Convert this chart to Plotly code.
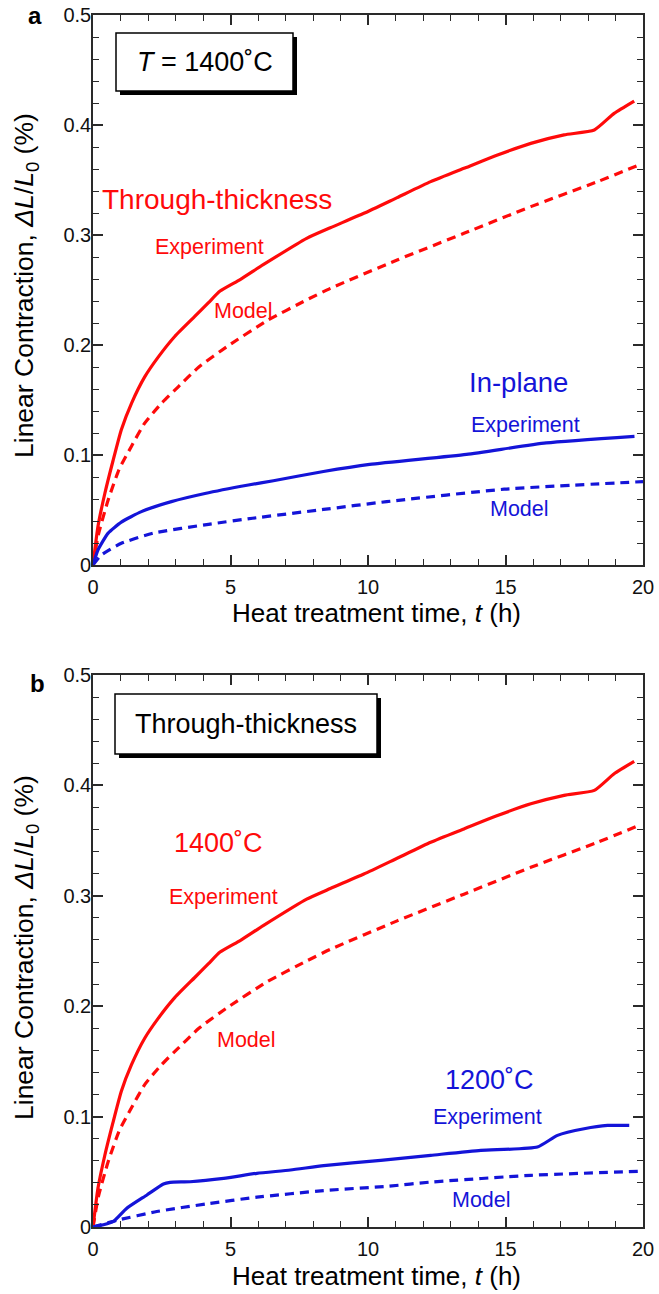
import plotly.graph_objects as go

W, H = 659, 1294

# ---------------- data ----------------
# 1400 C, through-thickness, experiment (same curve in both panels)
tt_exp_t = [0, 0.18, 0.43, 0.73, 1.03, 1.40, 1.88, 2.37, 2.98, 3.70, 4.2, 4.62, 5.35, 6.19, 7.77,
            8.63, 9.85, 11.06, 12.28, 13.49, 14.71, 15.92, 17.13, 18.23, 18.95, 19.68]
tt_exp_v = [0, 0.035, 0.065, 0.095, 0.123, 0.147, 0.171, 0.189, 0.208, 0.226, 0.2385, 0.249, 0.2595, 0.273, 0.297,
            0.3066, 0.3197, 0.334, 0.3485, 0.3606, 0.3727, 0.3833, 0.391, 0.3955, 0.4106, 0.4218]
# 1400 C, through-thickness, model
tt_mod_t = [0, 0.2, 0.55, 0.95, 1.40, 1.88, 2.49, 3.10, 3.85, 4.9, 6.32, 7.77, 8.63, 11.06, 13.49, 15.92, 18.35, 19.93]
tt_mod_v = [0, 0.028, 0.059, 0.087, 0.108, 0.129, 0.147, 0.162, 0.180, 0.199, 0.222, 0.241, 0.2515, 0.2773,
            0.3015, 0.3258, 0.3485, 0.3645]
# 1400 C, in-plane, experiment
ip_exp_t = [0, 0.18, 0.55, 1.03, 1.76, 2.85, 4.07, 5.65, 6.56, 8.38, 10.06, 13.58, 16.48, 19.69]
ip_exp_v = [0, 0.0136, 0.029, 0.039, 0.0485, 0.0576, 0.065, 0.0727, 0.0766, 0.085, 0.0915, 0.1006, 0.111, 0.117]
# 1400 C, in-plane, model
ip_mod_t = [0, 0.3, 1.03, 2.2, 4.2, 5.8, 8.38, 10.68, 14.95, 20]
ip_mod_v = [0, 0.009, 0.0197, 0.029, 0.037, 0.0425, 0.0505, 0.0576, 0.0689, 0.0758]
# 1200 C, through-thickness, experiment
t12_exp_t = [0, 0.38, 0.74, 1.23, 1.96, 2.56, 2.8, 3.53, 4.75, 5.96, 7.18, 8.39, 10.46, 12.28,
             14.1, 16.16, 16.89, 17.86, 18.71, 19.5]
t12_exp_v = [0, 0.002, 0.005, 0.017, 0.029, 0.039, 0.0405, 0.041, 0.044, 0.0486, 0.0516, 0.0556, 0.0604,
             0.0649, 0.0694, 0.0724, 0.083, 0.089, 0.092, 0.092]
# 1200 C, through-thickness, model
t12_mod_t = [0, 0.86, 2.32, 4.14, 5.96, 8.39, 10.76, 12.28, 15.92, 19.81]
t12_mod_v = [0, 0.006, 0.014, 0.021, 0.027, 0.033, 0.037, 0.0407, 0.0468, 0.0504]

x_ticks = [0, 5, 10, 15, 20]
y_ticks = [0, 0.1, 0.2, 0.3, 0.4, 0.5]
y_ticktext = ["0", "0.1", "0.2", "0.3", "0.4", "0.5"]

RED = "#ff0a0a"
BLUE = "#1414d8"
AX = "#2a2a2a"
FONT = "Liberation Sans, Arial, sans-serif"


def px(x):
    return x / W


def py(y):
    return 1 - y / H


fig = go.Figure()


def add(t, v, color, dash, xa, ya):
    fig.add_trace(go.Scatter(
        x=t, y=v, mode="lines", xaxis=xa, yaxis=ya, showlegend=False, hoverinfo="skip",
        line=dict(color=color, width=3.2, dash=dash, shape="spline", smoothing=0.5)))


add(tt_mod_t, tt_mod_v, RED, "9px,6px", "x", "y")
add(ip_mod_t, ip_mod_v, BLUE, "9px,6px", "x", "y")
add(tt_exp_t, tt_exp_v, RED, "solid", "x", "y")
add(ip_exp_t, ip_exp_v, BLUE, "solid", "x", "y")

add(tt_mod_t, tt_mod_v, RED, "9px,6px", "x2", "y2")
add(t12_mod_t, t12_mod_v, BLUE, "9px,6px", "x2", "y2")
add(tt_exp_t, tt_exp_v, RED, "solid", "x2", "y2")
add(t12_exp_t, t12_exp_v, BLUE, "solid", "x2", "y2")

xdom = [px(93), px(643)]
ax_common = dict(showline=True, linecolor=AX, linewidth=1.6, mirror="allticks",
                 ticks="inside", ticklen=10, tickwidth=1.6, tickcolor=AX,
                 showgrid=False, zeroline=False, automargin=False,
                 tickfont=dict(family=FONT, size=20, color="#111"))
xa = dict(ax_common, range=[0, 20], tickvals=x_ticks, ticktext=[str(v) for v in x_ticks],
          minor=dict(dtick=1, ticks="inside", ticklen=6, tickwidth=1.4, tickcolor=AX, showgrid=False),
          domain=xdom, ticklabelstandoff=3)
ya = dict(ax_common, range=[0, 0.5], tickvals=y_ticks, ticktext=y_ticktext,
          minor=dict(dtick=0.02, tick0=0, ticks="inside", ticklen=6, tickwidth=1.4, tickcolor=AX, showgrid=False),
          ticklabelstandoff=-4)

fig.update_layout(
    width=W, height=H, margin=dict(l=0, r=0, t=0, b=0, autoexpand=False),
    paper_bgcolor="white", plot_bgcolor="white",
    xaxis=dict(xa, anchor="y"),
    yaxis=dict(ya, anchor="x", domain=[py(565), py(15)]),
    xaxis2=dict(xa, anchor="y2"),
    yaxis2=dict(ya, anchor="x2", domain=[py(1227), py(675)]),
)

shapes = []


def box(x0, y0, x1, y1, off=4):
    shapes.append(dict(type="rect", xref="paper", yref="paper",
                       x0=px(x0 + off), x1=px(x1 + off), y0=py(y1 + off), y1=py(y0 + off),
                       fillcolor="black", line=dict(width=0), layer="above"))
    shapes.append(dict(type="rect", xref="paper", yref="paper",
                       x0=px(x0), x1=px(x1), y0=py(y1), y1=py(y0),
                       fillcolor="white", line=dict(color="black", width=1.5), layer="above"))


box(116, 33, 293, 91)
box(115, 694, 377, 754)
fig.update_layout(shapes=shapes)

ann = []


def text(s, x, y, size, color="black", angle=0, bold=False):
    ann.append(dict(text=s, x=px(x), y=py(y), xref="paper", yref="paper",
                    xanchor="center", yanchor="middle", showarrow=False, textangle=angle,
                    font=dict(family=FONT, size=size, color=color,
                              weight="bold" if bold else "normal")))


# panel letters
text("a", 35, 16, 24, bold=True)
text("b", 37, 683, 24, bold=True)
# boxes
text("<i>T</i> = 1400˚C", 205, 62, 27)
text("Through-thickness", 246, 724, 27)
# axis titles
ytitle = "Linear Contraction, <i>ΔL</i>/<i>L</i><sub>0</sub> (%)"
xtitle = "Heat treatment time, <i>t</i> (h)"
text(ytitle, 26, 286, 26.5, angle=-90)
text(ytitle, 26, 948, 26.5, angle=-90)
text(xtitle, 376, 613, 26)
text(xtitle, 376, 1276, 26)
# panel a labels
text("Through-thickness", 217, 199, 28, RED)
text("Experiment", 209, 247, 21.5, RED)
text("Model", 243, 311, 21.5, RED)
text("In-plane", 518, 382, 27.5, BLUE)
text("Experiment", 525, 425, 21.5, BLUE)
text("Model", 519, 509, 21.5, BLUE)
# panel b labels
text("1400˚C", 218, 843, 27, RED)
text("Experiment", 223, 897, 21.5, RED)
text("Model", 247, 1040, 21.5, RED)
text("1200˚C", 490, 1080, 27, BLUE)
text("Experiment", 488, 1117, 21.5, BLUE)
text("Model", 481, 1200, 21.5, BLUE)

fig.update_layout(annotations=ann)

fig.write_html("out.html", config={"displayModeBar": False},
               post_script="document.body.style.margin='0';document.body.style.overflow='hidden';")
